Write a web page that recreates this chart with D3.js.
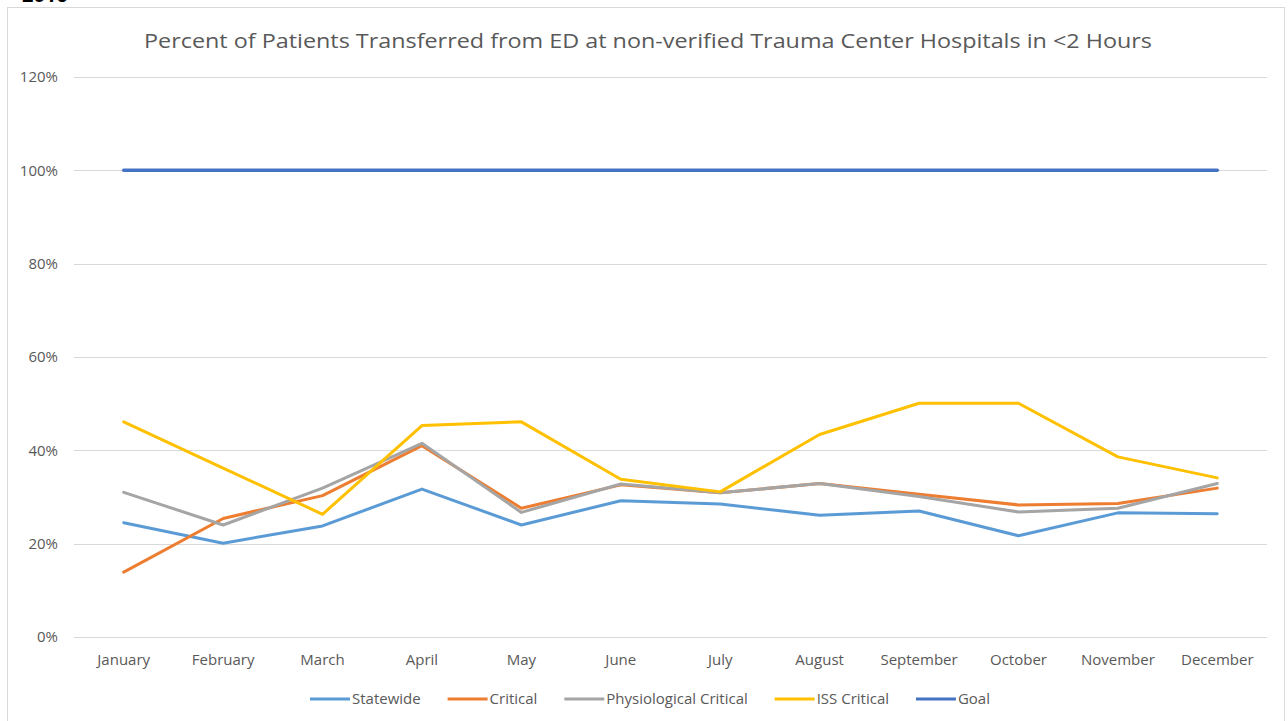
<!DOCTYPE html>
<html>
<head>
<meta charset="utf-8">
<script src="https://cdn.jsdelivr.net/npm/d3@7"></script>
<style>
  body { margin: 0; background: #fff; }
  svg { display: block; font-family: "Open Sans", "Liberation Sans", sans-serif; }
</style>
</head>
<body>
<svg id="chart" width="1288" height="721"></svg>
<script>
// Chart data
var months = ["January", "February", "March", "April", "May", "June",
    "July", "August", "September", "October", "November", "December"];
var statewide = [0.245, 0.201, 0.238, 0.317, 0.240, 0.292, 0.285, 0.261, 0.270, 0.217, 0.266, 0.264];
var critical = [0.139, 0.254, 0.303, 0.410, 0.276, 0.326, 0.309, 0.329, 0.306, 0.283, 0.286, 0.319];
var physiological = [0.310, 0.240, 0.319, 0.415, 0.267, 0.328, 0.309, 0.329, 0.301, 0.268, 0.276, 0.329];
var issCritical = [0.461, 0.362, 0.263, 0.453, 0.461, 0.338, 0.311, 0.434, 0.501, 0.501, 0.386, 0.341];
var goal = [1, 1, 1, 1, 1, 1, 1, 1, 1, 1, 1, 1];
var yTicks = [0, 0.2, 0.4, 0.6, 0.8, 1.0, 1.2];

var seriesNames = ["Statewide", "Critical", "Physiological Critical", "ISS Critical", "Goal"];
var seriesValues = [statewide, critical, physiological, issCritical, goal];
var seriesColors = ["#5B9BD5", "#ED7D31", "#A5A5A5", "#FFC000", "#4472C4"];

var textColor = "#595959";
var gridColor = "#D9D9D9";

var svg = d3.select("#chart");

// cut-off header above the chart frame (only its bottom edge shows)
svg.append("text")
    .attr("x", 22)
    .attr("y", 2)
    .attr("font-size", "20px")
    .attr("font-weight", "bold")
    .attr("fill", "#000")
    .text("2016");

// chart frame
svg.append("rect")
    .attr("x", 7.5)
    .attr("y", 7.5)
    .attr("width", 1277)
    .attr("height", 730)
    .attr("fill", "#fff")
    .attr("stroke", gridColor)
    .attr("stroke-width", 1);

var x = d3.scaleBand()
    .domain(months)
    .range([74, 1267])
    .padding(0);

var y = d3.scaleLinear()
    .domain([0, 1.2])
    .range([637, 77]);

// Title
svg.append("text")
    .attr("x", 648)
    .attr("y", 48)
    .attr("text-anchor", "middle")
    .attr("font-size", "19.5px")
    .attr("fill", textColor)
    .attr("textLength", 1008)
    .attr("lengthAdjust", "spacingAndGlyphs")
    .text("Percent of Patients Transferred from ED at non-verified Trauma Center Hospitals in <2 Hours");

// gridlines
svg.append("g")
    .selectAll("line")
    .data(yTicks)
    .enter()
    .append("line")
    .attr("x1", 74)
    .attr("x2", 1267)
    .attr("y1", d => Math.round(y(d)) + 0.5)
    .attr("y2", d => Math.round(y(d)) + 0.5)
    .attr("stroke", gridColor)
    .attr("stroke-width", 1);

// y axis labels
var yAxis = svg.append("g")
    .attr("transform", "translate(58,0)")
    .call(d3.axisLeft(y).tickValues(yTicks).tickFormat(d3.format(".0%")).tickSize(0).tickPadding(0));
yAxis.select(".domain").remove();
yAxis.selectAll("text")
    .attr("fill", textColor)
    .attr("font-size", "15px")
    .attr("font-family", "\"Open Sans\", sans-serif");

// x axis labels
var xAxis = svg.append("g")
    .attr("transform", "translate(0,637)")
    .call(d3.axisBottom(x).tickSize(0).tickPadding(17));
xAxis.select(".domain").remove();
xAxis.selectAll("text")
    .attr("fill", textColor)
    .attr("font-size", "15px")
    .attr("font-family", "\"Open Sans\", sans-serif");

// lines
var line = d3.line()
    .x(function (d, i) { return x(months[i]) + x.bandwidth() / 2; })
    .y(function (d) { return y(d); });

seriesValues.forEach(function (vals, i) {
    svg.append("path")
        .datum(vals)
        .attr("fill", "none")
        .attr("stroke", seriesColors[i])
        .attr("stroke-width", i === 4 ? 3.5 : 3)
        .attr("stroke-linejoin", "round")
        .attr("stroke-linecap", "round")
        .attr("d", line);
});

// legend
var legend = svg.append("g").attr("class", "legend");
var items = legend.selectAll("g")
    .data(seriesNames)
    .enter()
    .append("g");

items.append("line")
    .attr("x1", 0)
    .attr("x2", 40)
    .attr("y1", 0)
    .attr("y2", 0)
    .attr("stroke", (d, i) => seriesColors[i])
    .attr("stroke-width", 3);

items.append("text")
    .attr("x", 42)
    .attr("y", 5)
    .attr("font-size", "15px")
    .attr("fill", textColor)
    .text(d => d);

// lay out legend items left to right across the legend span
var legendLeft = 310, legendRight = 990;
var widths = [];
items.each(function () {
    widths.push(42 + this.querySelector("text").getComputedTextLength());
});
var gap = (legendRight - legendLeft - d3.sum(widths)) / (widths.length - 1);
var lx = legendLeft;
items.attr("transform", function (d, i) {
    var t = "translate(" + lx + ",699)";
    lx += widths[i] + gap;
    return t;
});
</script>
</body>
</html>
